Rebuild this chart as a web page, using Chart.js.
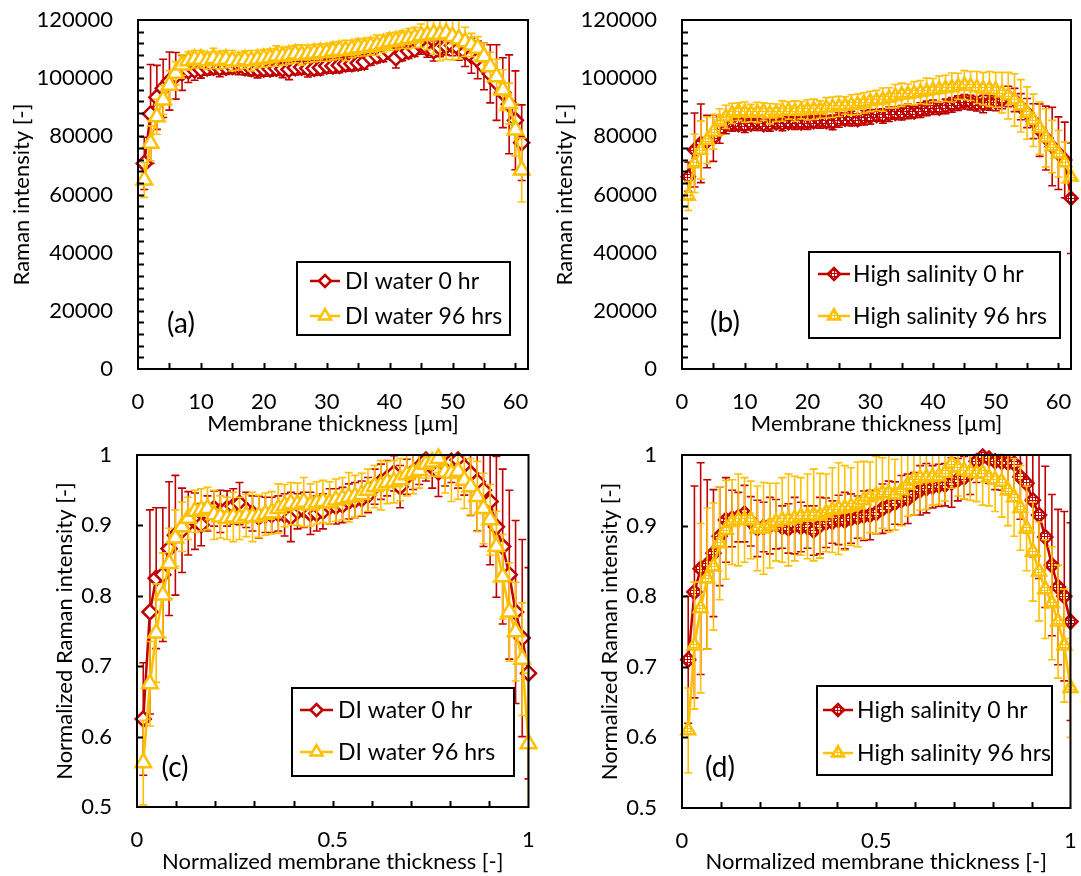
<!DOCTYPE html>
<html>
<head>
<meta charset="utf-8">
<script src="https://cdn.jsdelivr.net/npm/chart.js@4.4.1/dist/chart.umd.min.js"></script>
<style>
  body { margin: 0; background: #fff; }
  #wrap { position: relative; width: 1081px; height: 876px; }
  canvas { position: absolute; }
</style>
</head>
<body>
<div id="wrap">
  <canvas id="chartA" width="540" height="440" style="left:0;top:0"></canvas>
  <canvas id="chartB" width="541" height="440" style="left:540px;top:0"></canvas>
  <canvas id="chartC" width="540" height="436" style="left:0;top:440px"></canvas>
  <canvas id="chartD" width="541" height="436" style="left:540px;top:440px"></canvas>
</div>
<script>
// membrane thickness positions [µm]
const thicknessA = [1,2,3,4,5,6,7,8,9,10,11,12,13,14,15,16,17,18,19,20,21,22,23,24,25,26,27,28,29,30,
  31,32,33,34,35,36,37,38,39,40,41,42,43,44,45,46,47,48,49,50,51,52,53,54,55,56,57,58,59,60,61];
const thicknessB = [1,2,3,4,5,6,7,8,9,10,11,12,13,14,15,16,17,18,19,20,21,22,23,24,25,26,27,28,29,30,
  31,32,33,34,35,36,37,38,39,40,41,42,43,44,45,46,47,48,49,50,51,52,53,54,55,56,57,58,59,60,61,62];

// normalized thickness positions [-]
const normA = [0.016,0.033,0.049,0.066,0.082,0.098,0.115,0.131,0.148,0.164,0.180,0.197,0.213,0.230,0.246,
  0.262,0.279,0.295,0.311,0.328,0.344,0.361,0.377,0.393,0.410,0.426,0.443,0.459,0.475,0.492,0.508,0.525,
  0.541,0.557,0.574,0.590,0.607,0.623,0.639,0.656,0.672,0.689,0.705,0.721,0.738,0.754,0.770,0.787,0.803,
  0.820,0.836,0.852,0.869,0.885,0.902,0.918,0.934,0.951,0.967,0.984,1.000];
const normB = [0.016,0.032,0.048,0.065,0.081,0.097,0.113,0.129,0.145,0.161,0.177,0.194,0.210,0.226,0.242,
  0.258,0.274,0.290,0.306,0.323,0.339,0.355,0.371,0.387,0.403,0.419,0.435,0.452,0.468,0.484,0.500,0.516,
  0.532,0.548,0.565,0.581,0.597,0.613,0.629,0.645,0.661,0.677,0.694,0.710,0.726,0.742,0.758,0.774,0.790,
  0.806,0.823,0.839,0.855,0.871,0.887,0.903,0.919,0.935,0.952,0.968,0.984,1.000];

// (a) Raman intensity, DI water
const diWater0 = [70700,87700,93400,96500,99000,100800,101800,102500,102800,103000,
  103500,103800,103500,103800,104000,104200,103600,103300,103100,103200,
  103200,103400,103200,103000,103600,103800,103400,103400,103600,104200,
  104200,104400,104900,105000,105200,105600,107000,107700,108200,109000,
  107000,108500,109300,110000,111200,110200,109400,110400,111000,111200,
  110200,109000,107700,106300,104000,101500,98500,95000,91000,85500,77800];
const diWater0Err = [9000,17000,11000,10000,10000,8000,6000,4000,3500,3000,
  2500,2500,3000,2500,2500,3000,2500,2500,3000,2500,
  2500,2500,3000,3500,2500,2500,3000,2500,2500,2500,
  2500,2500,2500,2500,2500,2500,2500,2500,2500,2500,
  3500,2500,2500,2500,3000,3000,3500,3000,3000,3500,
  4000,5000,6000,6500,8000,10000,13000,12000,17000,17000,13000];
const diWater96 = [65000,77600,86700,92500,97600,101700,104500,106000,106500,106500,
  106000,106800,106200,106500,106000,105800,106300,106000,106500,106800,
  107000,107600,107500,107900,108300,108000,108300,108600,108800,108800,
  109300,109600,109500,110000,110500,110600,111000,111300,111800,112500,
  112800,113300,113600,114000,114600,114800,115200,115000,115400,114300,
  113500,112500,111400,110300,107400,103900,100500,95900,91300,82200,68400];
const diWater96Err = [6000,6000,6000,5000,5000,4000,3500,3000,3000,3000,
  3000,3500,3000,3000,3500,3000,3000,3500,3000,3000,
  3000,3500,3000,3000,3000,3500,3000,3000,3000,3000,
  3000,3000,3500,3000,3000,3000,3000,3500,3000,3000,
  3000,3000,3500,3500,4000,5000,7000,9000,9000,8000,
  7000,5000,4000,4000,4500,5000,6000,7000,7000,9000,11000];

// (b) Raman intensity, high salinity
const highSal0 = [66100,75300,77600,78200,79400,82100,83900,84300,84000,83800,
  84200,84500,84000,84300,84600,84400,84700,84900,84600,84900,
  85000,85300,85000,84800,85600,85900,86100,85700,86400,86700,
  87200,87000,87600,87900,88100,88600,88400,89000,89600,90000,
  89700,90300,90800,91400,91900,91600,91200,91100,91500,91800,
  92500,93700,92500,90200,88000,85200,82100,79400,76500,74200,
  71900,58700];
const highSal0Err = [5000,12700,13500,9000,8000,4500,3000,2500,2000,2500,
  2000,2500,2000,2500,2000,2500,2000,2500,2000,2500,
  2000,2500,2000,2500,2500,2000,2500,2000,2500,2500,
  2000,2500,2500,2000,2500,2500,2000,2500,2500,2500,
  2000,2500,2500,2500,2500,2500,2500,3000,2500,3000,
  3000,3500,4000,4500,5000,6000,9000,11000,13500,12500,
  13000,19000];
const highSal96 = [59500,70700,75300,78700,81600,85000,86700,87900,88500,88300,
  88000,88200,88500,87800,88100,88700,88900,88700,89000,89100,
  89300,89200,89800,90000,90300,90600,90800,91000,91500,92000,
  92300,92600,93200,93800,94300,94500,94800,95200,95500,95900,
  96200,96500,96800,97200,97600,97300,96800,96400,96300,96000,
  95000,94000,92500,90500,88000,85500,82800,79500,76500,74000,
  71000,66100];
const highSal96Err = [5000,10000,10000,8000,6000,4500,4000,3500,3000,3500,
  3000,3500,3000,3500,3000,3500,3000,3500,3000,3500,
  3500,3000,3500,3500,3500,3000,3500,3500,3500,3500,
  3500,4000,3500,4000,4000,3500,4000,4000,4500,4000,
  4500,4500,5000,4500,5000,5000,5500,5500,6000,6000,
  7000,8000,9000,9000,9000,9000,9000,10000,9000,8000,
  7000,5000];

// (c) normalized, DI water
const diWater0Norm = [0.625,0.777,0.825,0.830,0.867,0.886,0.893,0.903,0.906,0.901,
  0.917,0.924,0.920,0.924,0.927,0.931,0.922,0.917,0.912,0.915,
  0.915,0.917,0.915,0.912,0.920,0.922,0.917,0.917,0.920,0.927,
  0.927,0.929,0.934,0.936,0.938,0.943,0.955,0.962,0.967,0.974,
  0.955,0.969,0.976,0.983,0.993,0.983,0.976,0.986,0.991,0.993,
  0.983,0.974,0.962,0.950,0.934,0.898,0.870,0.830,0.777,0.740,0.690];
const diWater0NormErr = [0.08,0.145,0.10,0.095,0.095,0.085,0.06,0.045,0.04,0.03,
  0.025,0.025,0.03,0.025,0.025,0.03,0.025,0.025,0.03,0.025,
  0.025,0.025,0.03,0.035,0.025,0.025,0.03,0.025,0.025,0.025,
  0.025,0.025,0.025,0.025,0.025,0.025,0.025,0.025,0.025,0.025,
  0.03,0.025,0.025,0.025,0.03,0.03,0.035,0.03,0.03,0.04,
  0.04,0.06,0.07,0.08,0.09,0.10,0.11,0.12,0.13,0.14,0.15];
const diWater96Norm = [0.563,0.675,0.747,0.801,0.846,0.882,0.898,0.910,0.920,0.922,
  0.924,0.915,0.912,0.910,0.912,0.910,0.914,0.912,0.913,0.916,
  0.918,0.924,0.928,0.931,0.930,0.933,0.929,0.932,0.934,0.932,
  0.936,0.938,0.940,0.941,0.944,0.950,0.955,0.957,0.961,0.962,
  0.965,0.972,0.975,0.978,0.987,0.990,0.995,0.976,0.974,0.977,
  0.964,0.955,0.941,0.924,0.908,0.870,0.827,0.777,0.749,0.710,0.590];
const diWater96NormErr = [0.06,0.06,0.07,0.06,0.05,0.04,0.035,0.03,0.03,0.03,
  0.03,0.035,0.03,0.03,0.035,0.03,0.03,0.035,0.03,0.03,
  0.03,0.035,0.03,0.03,0.03,0.035,0.03,0.03,0.03,0.03,
  0.03,0.03,0.035,0.03,0.03,0.03,0.03,0.035,0.03,0.03,
  0.03,0.03,0.03,0.025,0.02,0.02,0.02,0.03,0.04,0.04,
  0.04,0.04,0.05,0.05,0.05,0.05,0.06,0.07,0.07,0.08,0.10];

// (d) normalized, high salinity
const highSal0Norm = [0.710,0.806,0.839,0.845,0.861,0.885,0.908,0.910,0.912,0.917,
  0.906,0.896,0.898,0.900,0.902,0.898,0.896,0.900,0.898,0.898,
  0.893,0.900,0.904,0.905,0.908,0.907,0.910,0.912,0.914,0.915,
  0.918,0.924,0.928,0.932,0.936,0.938,0.945,0.950,0.953,0.955,
  0.957,0.958,0.961,0.965,0.968,0.974,0.991,0.998,0.995,0.991,
  0.990,0.989,0.988,0.969,0.960,0.936,0.915,0.884,0.844,0.813,
  0.800,0.764];
const highSal0NormErr = [0.09,0.15,0.15,0.12,0.09,0.07,0.06,0.04,0.035,0.04,
  0.035,0.04,0.035,0.04,0.035,0.03,0.035,0.04,0.035,0.03,
  0.035,0.04,0.035,0.03,0.035,0.04,0.035,0.03,0.035,0.035,
  0.03,0.035,0.035,0.03,0.035,0.035,0.03,0.035,0.035,0.03,
  0.03,0.03,0.035,0.03,0.03,0.03,0.03,0.03,0.035,0.04,
  0.04,0.045,0.05,0.06,0.07,0.08,0.09,0.10,0.10,0.11,
  0.12,0.14];
const highSal96Norm = [0.610,0.730,0.783,0.825,0.842,0.875,0.894,0.905,0.908,0.908,
  0.908,0.896,0.896,0.900,0.905,0.908,0.908,0.910,0.913,0.913,
  0.915,0.914,0.918,0.922,0.924,0.925,0.927,0.930,0.936,0.940,
  0.943,0.946,0.946,0.944,0.950,0.958,0.965,0.967,0.968,0.969,
  0.970,0.975,0.988,0.982,0.978,0.976,0.974,0.974,0.968,0.965,
  0.962,0.950,0.940,0.925,0.896,0.863,0.835,0.810,0.790,0.764,
  0.730,0.670];
const highSal96NormErr = [0.06,0.09,0.12,0.10,0.09,0.08,0.07,0.06,0.065,0.06,
  0.055,0.06,0.065,0.06,0.055,0.06,0.065,0.06,0.055,0.06,
  0.065,0.06,0.055,0.06,0.065,0.06,0.055,0.06,0.055,0.05,
  0.055,0.05,0.055,0.05,0.05,0.045,0.05,0.045,0.045,0.04,
  0.04,0.04,0.035,0.04,0.04,0.04,0.04,0.045,0.04,0.045,
  0.05,0.05,0.055,0.06,0.06,0.07,0.07,0.07,0.08,0.08,
  0.08,0.07];

// axis tick labels
const rawXTicks = [0, 10, 20, 30, 40, 50, 60];
const rawYTicks = [0, 20000, 40000, 60000, 80000, 100000, 120000];
const normXTicks = [0, 0.5, 1];
const normYTicks = [0.5, 0.6, 0.7, 0.8, 0.9, 1];

const legendNames = {
  di: ['DI water 0 hr', 'DI water 96 hrs'],
  hs: ['High salinity 0 hr', 'High salinity 96 hrs']
};

const RED = '#C00000';
const GOLD = '#FFC000';
const FONT = 'Lato';

function dotted(color) {
  const c = document.createElement('canvas');
  c.width = 3; c.height = 3;
  const g = c.getContext('2d');
  g.fillStyle = '#fff';
  g.fillRect(0, 0, 3, 3);
  g.fillStyle = color;
  g.fillRect(0, 0, 1, 3);
  g.fillRect(0, 0, 3, 1);
  return g.createPattern(c, 'repeat');
}

function series(label, xs, ys, errs, color, style, radius, fill) {
  return {
    label: label,
    data: xs.map((x, i) => ({ x: x, y: ys[i] })),
    errors: errs,
    borderColor: color,
    borderWidth: 2.5,
    pointStyle: style,
    pointRadius: radius,
    pointHoverRadius: radius,
    pointBorderColor: color,
    pointBackgroundColor: fill,
    pointBorderWidth: 2.5,
    tension: 0,
    clip: false,
    order: style === 'triangle' ? 0 : 1
  };
}

// error bars, drawn under each dataset's own markers
const errorBars = {
  id: 'errorBars',
  beforeDatasetDraw(chart, args) {
    const ds = chart.data.datasets[args.index];
    if (!ds.errors) return;
    const yScale = chart.scales.y;
    const a = chart.chartArea;
    const ctx = chart.ctx;
    ctx.save();
    ctx.beginPath();
    ctx.rect(a.left, a.top - 1, a.right - a.left, a.bottom - a.top + 2);
    ctx.clip();
    ctx.strokeStyle = ds.borderColor;
    ctx.lineWidth = 1.6;
    ctx.beginPath();
    args.meta.data.forEach((pt, i) => {
      const v = ds.data[i].y, e = ds.errors[i];
      const top = yScale.getPixelForValue(v + e);
      const bot = yScale.getPixelForValue(v - e);
      ctx.moveTo(pt.x, top); ctx.lineTo(pt.x, bot);
      ctx.moveTo(pt.x - 4, top); ctx.lineTo(pt.x + 4, top);
      ctx.moveTo(pt.x - 4, bot); ctx.lineTo(pt.x + 4, bot);
    });
    ctx.stroke();
    ctx.restore();
  }
};

// plot box, inward tick marks and panel tag
const frame = {
  id: 'frame',
  afterDraw(chart, args, o) {
    const { ctx, chartArea: a, scales: { x, y } } = chart;
    ctx.save();
    ctx.strokeStyle = '#000';
    ctx.lineWidth = 2;
    ctx.strokeRect(a.left, a.top, a.right - a.left, a.bottom - a.top);
    ctx.beginPath();
    for (let v = o.xStep; v < x.max - 1e-9; v += o.xStep) {
      const px = Math.round(x.getPixelForValue(v)) + 0.5;
      ctx.moveTo(px, a.bottom); ctx.lineTo(px, a.bottom - 6);
    }
    for (let v = y.min + o.yStep; v < y.max - 1e-9; v += o.yStep) {
      const py = Math.round(y.getPixelForValue(v)) + 0.5;
      ctx.moveTo(a.left, py); ctx.lineTo(a.left + 6, py);
    }
    ctx.stroke();
    ctx.fillStyle = '#000';
    ctx.font = '28px ' + FONT;
    ctx.textAlign = 'center';
    ctx.textBaseline = 'middle';
    ctx.fillText(o.tag, a.left + o.tagDx, a.bottom - o.tagDy);
    ctx.restore();
  }
};

// boxed legend inside the plot
const boxLegend = {
  id: 'boxLegend',
  afterDraw(chart, args, o) {
    const ctx = chart.ctx;
    const [bx, by, bw, bh] = o.box;
    ctx.save();
    ctx.fillStyle = '#fff';
    ctx.fillRect(bx, by, bw, bh);
    ctx.strokeStyle = '#000';
    ctx.lineWidth = 2;
    ctx.strokeRect(bx, by, bw, bh);
    chart.data.datasets.forEach((ds, i) => {
      const ry = o.rows[i];
      ctx.strokeStyle = ds.borderColor;
      ctx.lineWidth = 2.5;
      ctx.beginPath();
      ctx.moveTo(o.line[0], ry); ctx.lineTo(o.line[1], ry);
      ctx.stroke();
      ctx.fillStyle = ds.pointBackgroundColor;
      Chart.helpers.drawPoint(ctx, {
        pointStyle: ds.pointStyle, radius: ds.pointStyle === 'triangle' ? 7 : 6,
        rotation: 0, borderWidth: 2.2
      }, (o.line[0] + o.line[1]) / 2, ry);
      ctx.fillStyle = '#000';
      ctx.font = o.fontSize + 'px ' + FONT;
      ctx.textAlign = 'left';
      ctx.textBaseline = 'middle';
      ctx.fillText(ds.label, o.textX, ry + 1);
    });
    ctx.restore();
  }
};

function makeChart(id, c) {
  const tickFont = { family: FONT, size: 22 };
  const titleFont = { family: FONT, size: 22 };
  return new Chart(document.getElementById(id), {
    type: 'line',
    data: { datasets: c.datasets },
    options: {
      responsive: false,
      animation: false,
      devicePixelRatio: 1,
      layout: { padding: c.pad },
      events: [],
      plugins: {
        legend: { display: false },
        tooltip: { enabled: false },
        frame: c.frame,
        boxLegend: c.legend
      },
      scales: {
        x: {
          type: 'linear', min: c.xMin, max: c.xMax,
          afterFit: s => { s.height = c.xH; s.paddingLeft = 0; s.paddingRight = 0; },
          afterBuildTicks: s => { s.ticks = c.xTicks.map(v => ({ value: v })); },
          grid: { display: false, drawTicks: false },
          border: { display: false },
          ticks: { padding: 20, font: tickFont, color: '#000', maxRotation: 0, autoSkip: false, callback: v => String(v) },
          title: { display: true, text: c.xTitle, font: titleFont, color: '#000', padding: { top: 0, bottom: c.xTitlePad } }
        },
        y: {
          type: 'linear', min: c.yMin, max: c.yMax,
          afterFit: s => { s.width = c.yW; s.paddingTop = 0; s.paddingBottom = 0; },
          afterBuildTicks: s => { s.ticks = c.yTicks.map(v => ({ value: v })); },
          grid: { display: false, drawTicks: false },
          border: { display: false },
          ticks: { padding: 25, font: tickFont, color: '#000', autoSkip: false, callback: v => String(v) },
          title: { display: true, text: c.yTitle, font: titleFont, color: '#000', padding: { top: c.yTitlePad, bottom: 0 } }
        }
      }
    },
    plugins: [errorBars, frame, boxLegend]
  });
}

function draw() {
  makeChart('chartA', {
    datasets: [
      series(legendNames.di[0], thicknessA, diWater0, diWater0Err, RED, 'rectRot', 7.5, '#fff'),
      series(legendNames.di[1], thicknessA, diWater96, diWater96Err, GOLD, 'triangle', 9, '#fff')
    ],
    pad: { left: 0, right: 12, top: 20, bottom: 0 },
    xMin: 0, xMax: 62, yMin: 0, yMax: 120000, yW: 138, xH: 71,
    xTicks: rawXTicks, yTicks: rawYTicks,
    xTitle: 'Membrane thickness [µm]', yTitle: 'Raman intensity [-]',
    xTitlePad: 3, yTitlePad: 9,
    frame: { xStep: 5, yStep: 4000, tag: '(a)', tagDx: 43, tagDy: 45 },
    legend: { box: [297, 262, 213, 73], rows: [281, 316], line: [310, 340], textX: 345, fontSize: 23 }
  });
  makeChart('chartB', {
    datasets: [
      series(legendNames.hs[0], thicknessB, highSal0, highSal0Err, RED, 'rectRot', 6.5, dotted(RED)),
      series(legendNames.hs[1], thicknessB, highSal96, highSal96Err, GOLD, 'triangle', 7.5, dotted(GOLD))
    ],
    pad: { left: 0, right: 9, top: 20, bottom: 0 },
    xMin: 0, xMax: 62, yMin: 0, yMax: 120000, yW: 142, xH: 71,
    xTicks: rawXTicks, yTicks: rawYTicks,
    xTitle: 'Membrane thickness [µm]', yTitle: 'Raman intensity [-]',
    xTitlePad: 3, yTitlePad: 12,
    frame: { xStep: 5, yStep: 4000, tag: '(b)', tagDx: 43, tagDy: 46 },
    legend: { box: [269, 252, 251, 86], rows: [274, 316], line: [278, 310], textX: 313, fontSize: 23 }
  });
  makeChart('chartC', {
    datasets: [
      series(legendNames.di[0], normA, diWater0Norm, diWater0NormErr, RED, 'rectRot', 7.5, '#fff'),
      series(legendNames.di[1], normA, diWater96Norm, diWater96NormErr, GOLD, 'triangle', 9, '#fff')
    ],
    pad: { left: 0, right: 10, top: 15, bottom: 0 },
    xMin: 0, xMax: 1, yMin: 0.5, yMax: 1, yW: 137, xH: 69,
    xTicks: normXTicks, yTicks: normYTicks,
    xTitle: 'Normalized membrane thickness [-]', yTitle: 'Normalized Raman intensity [-]',
    xTitlePad: 1, yTitlePad: 52,
    frame: { xStep: 0.1, yStep: 0.1, tag: '(c)', tagDx: 38, tagDy: 39 },
    legend: { box: [292, 248, 222, 88], rows: [270, 312], line: [300, 333], textX: 338, fontSize: 23 }
  });
  makeChart('chartD', {
    datasets: [
      series(legendNames.hs[0], normB, highSal0Norm, highSal0NormErr, RED, 'rectRot', 7, dotted(RED)),
      series(legendNames.hs[1], normB, highSal96Norm, highSal96NormErr, GOLD, 'triangle', 8, dotted(GOLD))
    ],
    pad: { left: 0, right: 9, top: 15, bottom: 0 },
    xMin: 0, xMax: 1, yMin: 0.5, yMax: 1, yW: 142, xH: 68,
    xTicks: normXTicks, yTicks: normYTicks,
    xTitle: 'Normalized membrane thickness [-]', yTitle: 'Normalized Raman intensity [-]',
    xTitlePad: 1, yTitlePad: 57,
    frame: { xStep: 0.1, yStep: 0.1, tag: '(d)', tagDx: 38, tagDy: 40 },
    legend: { box: [277, 246, 235, 89], rows: [270, 313], line: [283, 313], textX: 317, fontSize: 23 }
  });
}

document.fonts.load('22px ' + FONT).then(draw, draw);
</script>
</body>
</html>
